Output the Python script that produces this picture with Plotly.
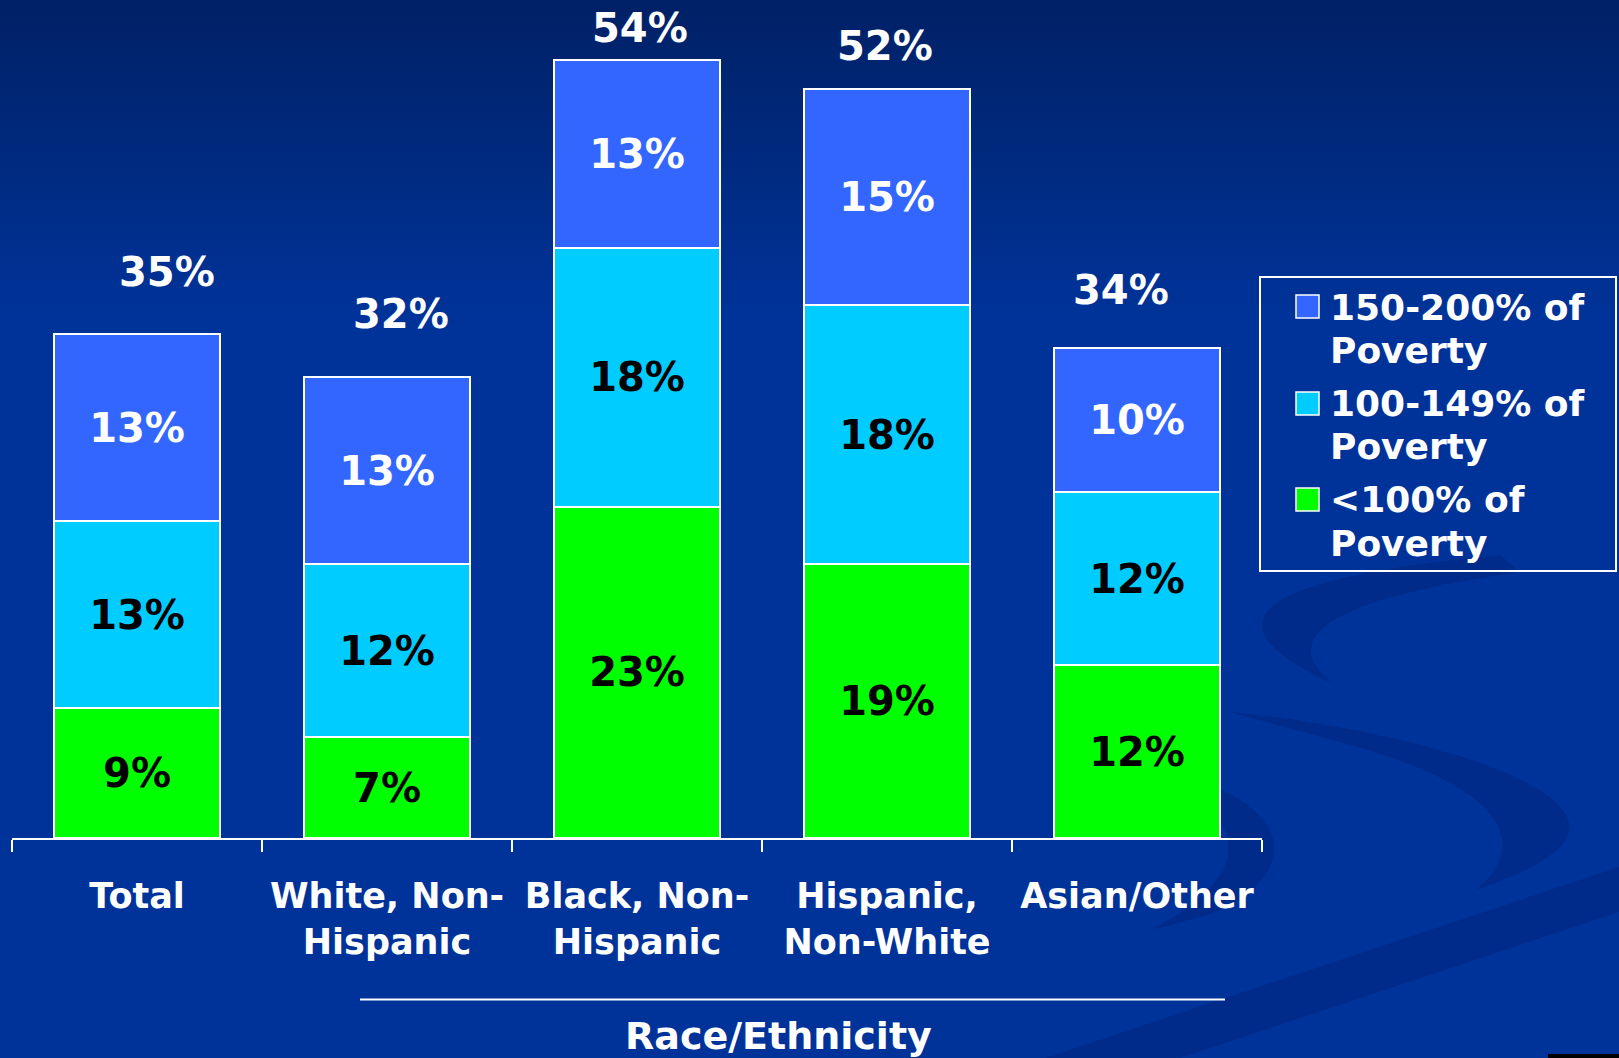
import plotly.graph_objects as go

# ---- data -------------------------------------------------------------
categories = ["Total", "White, Non-<br>Hispanic", "Black, Non-<br>Hispanic",
              "Hispanic,<br>Non-White", "Asian/Other"]
below_100 = [9, 7, 23, 19, 12]          # <100% of poverty
pov_100_149 = [13, 12, 18, 18, 12]      # 100-149% of poverty
pov_150_200 = [13, 13, 13, 15, 10]      # 150-200% of poverty
totals = [35, 32, 54, 52, 34]
series_names = ["<100% of Poverty", "100-149% of Poverty", "150-200% of Poverty"]
legend_lines = [["150-200% of", "Poverty"], ["100-149% of", "Poverty"], ["<100% of", "Poverty"]]

# ---- styling ----------------------------------------------------------
W, H = 1619, 1058
ML, MR, MT, MB = 12, 357, 0, 220
PW, PH = W - ML - MR, H - MT - MB
FONT = "DejaVu Sans"
C_GREEN, C_CYAN, C_BLUE = "#00FF00", "#00CCFF", "#3366FF"
BG = "#003399"
total_xshift = [30, 14, 3, -2, -16]
total_yshift = [62, 63, 32, 43, 58]


def px(x):
    """page pixel x -> paper x"""
    return (x - ML) / PW


def py(y):
    """page pixel y -> paper y"""
    return (MT + PH - y) / PH


fig = go.Figure()

for vals, name, col, tcol in [
    (below_100, series_names[0], C_GREEN, "black"),
    (pov_100_149, series_names[1], C_CYAN, "black"),
    (pov_150_200, series_names[2], C_BLUE, "white"),
]:
    fig.add_trace(go.Bar(
        x=categories, y=vals, name=name, width=0.664,
        marker=dict(color=col, line=dict(color="white", width=2)),
        texttemplate="%{y}%", textposition="inside", insidetextanchor="middle",
        textangle=0, constraintext="none",
        textfont=dict(family=FONT, size=40, color=tcol, weight="bold"),
        showlegend=False, hoverinfo="skip",
    ))

annotations = []
for i, (c, t) in enumerate(zip(categories, totals)):
    annotations.append(dict(
        x=c, y=t, xref="x", yref="y", text=f"{t}%", showarrow=False,
        xanchor="center", yanchor="middle",
        xshift=total_xshift[i], yshift=total_yshift[i],
        font=dict(family=FONT, size=40, color="white", weight="bold"),
    ))

shapes = []

# background: dark gradient at the top of the slide
top_rgb, base_rgb = (0, 33, 102), (0, 51, 153)
n_bands, grad_h = 40, 320
for k in range(n_bands):
    f = k / (n_bands - 1)
    r = round(top_rgb[0] + (base_rgb[0] - top_rgb[0]) * f)
    g = round(top_rgb[1] + (base_rgb[1] - top_rgb[1]) * f)
    b = round(top_rgb[2] + (base_rgb[2] - top_rgb[2]) * f)
    y0 = k * grad_h / n_bands
    shapes.append(dict(type="rect", xref="paper", yref="paper", layer="below",
                       x0=px(0), x1=px(W), y0=py(y0), y1=py(y0 + grad_h / n_bands + 1),
                       fillcolor=f"rgb({r},{g},{b})", line=dict(width=0)))


def path_from(points):
    segs = []
    for cmd, pts in points:
        segs.append(cmd + " ".join(f"{px(a):.5f},{py(b):.5f}" for a, b in pts))
    return " ".join(segs) + " Z"


swoosh = "rgba(0,28,110,0.33)"
# diagonal band at lower right
shapes.append(dict(type="path", xref="paper", yref="paper", layer="below",
                   path=path_from([("M", [(1045, 1058)]), ("L", [(1619, 867)]),
                                   ("L", [(1619, 912)]), ("L", [(1180, 1058)])]),
                   fillcolor=swoosh, line=dict(width=0)))
# upper crescent under the legend
shapes.append(dict(type="path", xref="paper", yref="paper", layer="below",
                   path=path_from([("M", [(1500, 555)]), ("Q", [(1130, 590), (1335, 685)]),
                                   ("Q", [(1240, 612), (1520, 572)])]),
                   fillcolor=swoosh, line=dict(width=0)))
# large crescent at lower right
shapes.append(dict(type="path", xref="paper", yref="paper", layer="below",
                   path=path_from([("M", [(1230, 712)]),
                                   ("C", [(1420, 730), (1610, 790), (1562, 845)]),
                                   ("C", [(1540, 868), (1500, 882), (1476, 890)]),
                                   ("C", [(1525, 850), (1520, 790), (1340, 742)])]),
                   fillcolor=swoosh, line=dict(width=0)))
# small crescent behind the last bar
shapes.append(dict(type="path", xref="paper", yref="paper", layer="below",
                   path=path_from([("M", [(1150, 770)]),
                                   ("C", [(1280, 790), (1310, 860), (1230, 905)]),
                                   ("C", [(1200, 920), (1170, 925), (1150, 930)]),
                                   ("C", [(1250, 880), (1260, 815), (1150, 780)])]),
                   fillcolor=swoosh, line=dict(width=0)))

# legend box
shapes.append(dict(type="rect", xref="paper", yref="paper",
                   x0=px(1260), x1=px(1616), y0=py(571), y1=py(277),
                   line=dict(color="white", width=2), fillcolor="rgba(0,0,0,0)"))
legend_colors = [C_BLUE, C_CYAN, C_GREEN]
sq_tops = [295, 392, 488]
line_centers = [(307, 350), (403, 446), (500, 543)]
for col, top, lines, centers in zip(legend_colors, sq_tops, legend_lines, line_centers):
    shapes.append(dict(type="rect", xref="paper", yref="paper",
                       x0=px(1296), x1=px(1319), y0=py(top + 23), y1=py(top),
                       fillcolor=col, line=dict(color="white", width=1.5)))
    for txt, cy in zip(lines, centers):
        annotations.append(dict(
            x=px(1328), y=py(cy), xref="paper", yref="paper", text=txt,
            showarrow=False, xanchor="left", yanchor="middle",
            font=dict(family=FONT, size=36, color="white", weight="bold")))

# axis title with rule above it
shapes.append(dict(type="line", xref="paper", yref="paper",
                   x0=px(360), x1=px(1225), y0=py(999.5), y1=py(999.5),
                   line=dict(color="white", width=2)))
annotations.append(dict(
    x=px(778), y=py(1036), xref="paper", yref="paper", text="Race/Ethnicity",
    showarrow=False, xanchor="center", yanchor="middle",
    font=dict(family=FONT, size=38, color="white", weight="bold")))

# small dark strip at the bottom-right edge
shapes.append(dict(type="rect", xref="paper", yref="paper",
                   x0=px(1548), x1=px(W), y0=py(H), y1=py(1054),
                   fillcolor="black", line=dict(width=0)))

fig.update_layout(
    width=W, height=H,
    margin=dict(l=ML, r=MR, t=MT, b=MB, pad=0),
    barmode="stack",
    paper_bgcolor=BG, plot_bgcolor="rgba(0,0,0,0)",
    shapes=shapes, annotations=annotations,
    showlegend=False,
    xaxis=dict(
        range=[-0.5, 4.5], showgrid=False, zeroline=False,
        showline=True, linecolor="white", linewidth=2,
        ticks="outside", tickson="boundaries", ticklen=12, tickwidth=2, tickcolor="white",
        tickfont=dict(family=FONT, size=35, color="white", weight="bold"),
        ticklabelstandoff=26,
    ),
    yaxis=dict(range=[0, 58.2], visible=False, showgrid=False, zeroline=False),
)

fig.write_html("out.html")
